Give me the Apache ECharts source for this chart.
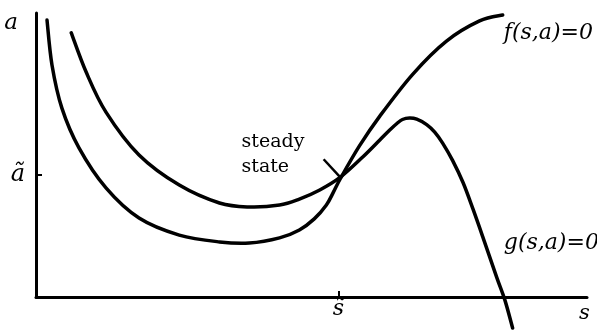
<!DOCTYPE html>
<html>
<head>
<meta charset="utf-8">
<script src="https://cdn.jsdelivr.net/npm/echarts@6/dist/echarts.min.js"></script>
<style>
  html, body { margin: 0; padding: 0; background: #fff; }
  #picture { width: 597px; height: 330px; }
</style>
</head>
<body>
<div id="picture"></div>
<script>
// f(s,a)=0 curve
var fS = [0.20, 0.29, 0.47, 0.78, 1.27, 1.87, 2.60, 3.33, 3.87, 4.42, 4.78, 5.05, 5.27, 5.40, 5.53, 5.87, 6.24, 6.84, 7.45, 8.05, 8.47];
var fA = [9.75, 8.17, 6.65, 5.25, 3.84, 2.78, 2.18, 1.94, 1.90, 2.08, 2.36, 2.75, 3.24, 3.70, 4.19, 5.32, 6.37, 7.85, 9.01, 9.72, 9.93];
// g(s,a)=0 curve
var gS = [0.64, 0.91, 1.27, 1.87, 2.60, 3.33, 3.87, 4.42, 4.78, 5.15, 5.53, 5.93, 6.24, 6.42, 6.55, 6.65, 6.78, 6.91, 7.09, 7.24, 7.38, 7.56, 7.75, 7.93, 8.11, 8.36, 8.51, 8.65];
var gA = [9.30, 7.92, 6.51, 5.00, 3.94, 3.31, 3.17, 3.24, 3.45, 3.77, 4.23, 4.93, 5.53, 5.88, 6.11, 6.25, 6.30, 6.26, 6.07, 5.80, 5.42, 4.81, 4.03, 3.10, 2.11, 0.70, -0.11, -1.09];
// steady state (s~, a~)
var steadyS = 5.49;
var steadyA = 4.30;
var curveNames = ['f(s,a)=0', 'g(s,a)=0'];

function pairs(xs, ys) {
    var out = [];
    for (var i = 0; i < xs.length; i++) out.push([xs[i], ys[i]]);
    return out;
}

var serif = '"DejaVu Serif", serif';
var ink = '#000';

// one smooth path (catmull-rom -> bezier) through the points, drawn once per series
function curve(xs, ys) {
    return function (params, api) {
        if (params.dataIndex !== 0) return null;
        var p = [];
        for (var i = 0; i < xs.length; i++) p.push(api.coord([xs[i], ys[i]]));
        var d = 'M' + p[0][0] + ' ' + p[0][1];
        for (var j = 0; j < p.length - 1; j++) {
            var p0 = p[j - 1] || p[j], p1 = p[j], p2 = p[j + 1], p3 = p[j + 2] || p[j + 1];
            d += ' C' + (p1[0] + (p2[0] - p0[0]) / 6) + ' ' + (p1[1] + (p2[1] - p0[1]) / 6) +
                ' ' + (p2[0] - (p3[0] - p1[0]) / 6) + ' ' + (p2[1] - (p3[1] - p1[1]) / 6) +
                ' ' + p2[0] + ' ' + p2[1];
        }
        return {
            type: 'path',
            shape: { pathData: d },
            style: { fill: 'none', stroke: ink, lineWidth: 3.5, lineCap: 'round', lineJoin: 'round' }
        };
    };
}

var myChart = echarts.init(document.getElementById('picture'));
var option = {
    backgroundColor: '#fff',
    animation: false,
    grid: { left: 36, right: 10, top: 13, bottom: 33 },
    xAxis: {
        type: 'value', min: 0, max: 10,
        name: 's',
        nameLocation: 'end',
        nameGap: -8,
        nameTextStyle: { fontFamily: serif, fontStyle: 'italic', fontSize: 21, color: ink,
            verticalAlign: 'top', padding: [6, 0, 0, 0] },
        axisLine: { lineStyle: { color: ink, width: 3 } },
        splitLine: { show: false },
        axisTick: { show: true, inside: true, length: 6, customValues: [steadyS], lineStyle: { color: ink, width: 2 } },
        axisLabel: { customValues: [steadyS], formatter: function () { return 's\u0303'; },
            fontFamily: serif, fontStyle: 'italic', fontSize: 22, color: ink, margin: 1 }
    },
    yAxis: {
        type: 'value', min: 0, max: 10,
        name: 'a',
        nameLocation: 'end',
        nameGap: -22,
        nameTextStyle: { fontFamily: serif, fontStyle: 'italic', fontSize: 23, color: ink,
            align: 'right', padding: [0, 18, 0, 0] },
        axisLine: { lineStyle: { color: ink, width: 3 } },
        splitLine: { show: false },
        axisTick: { show: true, inside: true, length: 6, customValues: [steadyA], lineStyle: { color: ink, width: 2 } },
        axisLabel: { customValues: [steadyA], formatter: function () { return 'a\u0303'; },
            fontFamily: serif, fontStyle: 'italic', fontSize: 24, color: ink, margin: 11 }
    },
    series: [
        {
            name: curveNames[0],
            type: 'custom',
            data: pairs(fS, fA),
            renderItem: curve(fS, fA),
            clip: false
        },
        {
            name: curveNames[1],
            type: 'custom',
            data: pairs(gS, gA),
            renderItem: curve(gS, gA),
            clip: false
        },
        {
            name: 'labels',
            type: 'line',
            data: [[steadyS, steadyA]],
            showSymbol: false,
            lineStyle: { opacity: 0 },
            markPoint: {
                symbol: 'circle', symbolSize: 0,
                label: { show: true, position: 'right', distance: 0, fontFamily: serif, fontStyle: 'italic',
                    fontSize: 22, color: ink },
                data: [
                    { coord: [8.49, 9.30], label: { formatter: curveNames[0] } },
                    { coord: [8.49, 1.90], label: { formatter: curveNames[1] } },
                    { coord: [3.73, 5.0], label: { fontStyle: 'normal', fontSize: 19, lineHeight: 25,
                        formatter: 'steady\nstate' } }
                ]
            },
            markLine: {
                silent: true,
                symbol: ['none', 'none'],
                label: { show: false },
                lineStyle: { color: ink, width: 2.5, type: 'solid' },
                data: [[{ coord: [5.22, 4.85] }, { coord: [5.52, 4.22] }]]
            }
        }
    ]
};
myChart.setOption(option);
</script>
</body>
</html>
